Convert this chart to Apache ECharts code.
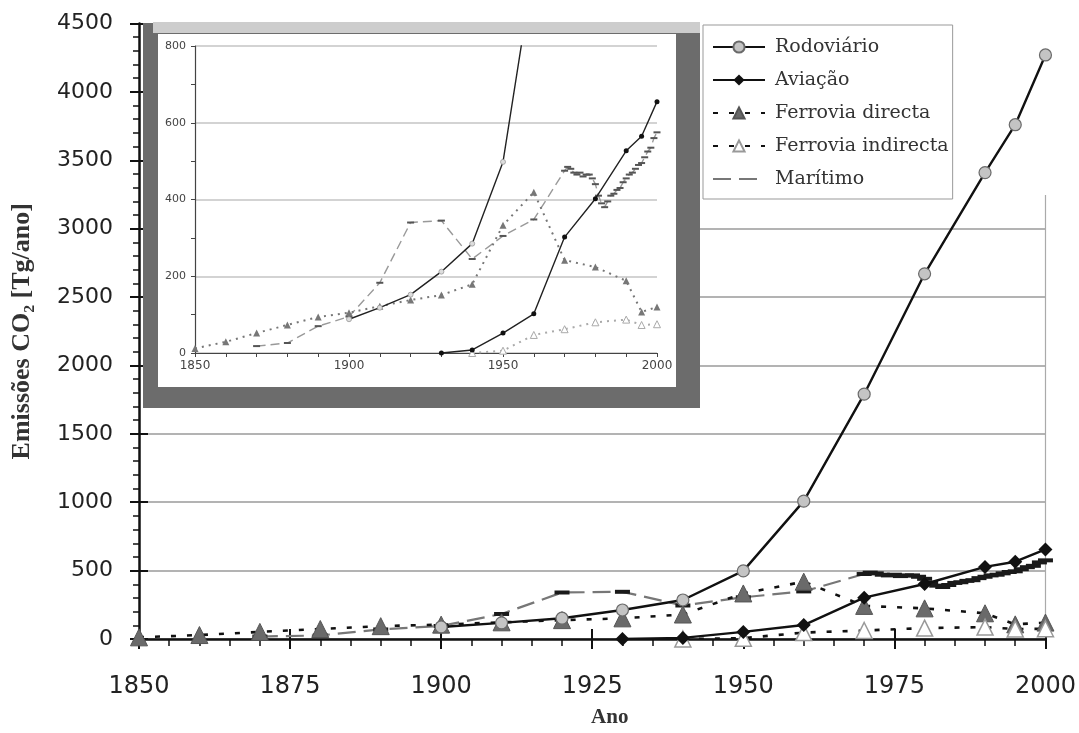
<!DOCTYPE html>
<html>
<head>
<meta charset="utf-8">
<script src="https://cdn.jsdelivr.net/npm/echarts@6/dist/echarts.min.js"></script>
<style>
html,body{margin:0;padding:0;background:#fff;}
#chart{width:1079px;height:733px;}
</style>
</head>
<body>
<div id="chart"></div>
<script>
// ---- Data (Tg CO2 / ano) ----
const seriesNames = ['Rodoviário', 'Aviação', 'Ferrovia directa', 'Ferrovia indirecta', 'Marítimo'];

const rodoviarioYears  = [1900, 1910, 1920, 1930, 1940, 1950, 1960, 1970, 1980, 1990, 1995, 2000];
const rodoviarioValues = [88, 118, 152, 212, 285, 498, 1008, 1790, 2670, 3410, 3760, 4270];

const aviacaoYears  = [1930, 1940, 1950, 1960, 1970, 1980, 1990, 1995, 2000];
const aviacaoValues = [0, 8, 52, 102, 302, 402, 527, 565, 655];

const ferroviaDirectaYears  = [1850, 1860, 1870, 1880, 1890, 1900, 1910, 1920, 1930, 1940, 1950, 1960, 1970, 1980, 1990, 1995, 2000];
const ferroviaDirectaValues = [12, 29, 52, 73, 94, 105, 122, 138, 151, 179, 333, 419, 242, 224, 188, 107, 120];

const ferroviaIndirectaYears  = [1940, 1950, 1960, 1970, 1980, 1990, 1995, 2000];
const ferroviaIndirectaValues = [0, 6, 47, 62, 80, 87, 73, 75];

const maritimoYears  = [1870, 1880, 1890, 1900, 1910, 1920, 1930, 1940, 1950, 1960,
  1970, 1971, 1972, 1973, 1974, 1975, 1976, 1977, 1978, 1979,
  1980, 1981, 1982, 1983, 1984, 1985, 1986, 1987, 1988, 1989,
  1990, 1991, 1992, 1993, 1994, 1995, 1996, 1997, 1998, 1999, 2000];
const maritimoValues = [18, 26, 70, 95, 183, 340, 345, 245, 305, 348,
  475, 485, 480, 470, 465, 470, 460, 465, 465, 455,
  440, 410, 390, 380, 395, 410, 415, 425, 430, 445,
  455, 465, 470, 480, 490, 495, 510, 525, 535, 560, 575];

// axis ranges / tick steps
const mainX = {min: 1850, max: 2000, step: 25};
const mainY = {min: 0, max: 4500, step: 500};
const insetX = {min: 1850, max: 2000, step: 50};
const insetY = {min: 0, max: 800, step: 200};

function pairs(xs, ys) { return xs.map((x, i) => [x, ys[i]]); }
const fmt = v => String(v);

const chart = echarts.init(document.getElementById('chart'), null, {renderer: 'canvas'});

const mainSeries = [
  {
    name: seriesNames[0], type: 'line', xAxisIndex: 0, yAxisIndex: 0,
    data: pairs(rodoviarioYears, rodoviarioValues),
    lineStyle: {color: '#111', width: 2.4},
    symbol: 'circle', symbolSize: 12,
    itemStyle: {color: '#c4c4c4', borderColor: '#6a6a6a', borderWidth: 1.2},
    z: 5
  },
  {
    name: seriesNames[1], type: 'line', xAxisIndex: 0, yAxisIndex: 0,
    data: pairs(aviacaoYears, aviacaoValues),
    lineStyle: {color: '#111', width: 2.4},
    symbol: 'diamond', symbolSize: 14,
    itemStyle: {color: '#111'},
    z: 6
  },
  {
    name: seriesNames[2], type: 'line', xAxisIndex: 0, yAxisIndex: 0,
    data: pairs(ferroviaDirectaYears, ferroviaDirectaValues),
    lineStyle: {color: '#111', width: 2.6, type: [5, 11]},
    symbol: 'triangle', symbolSize: 17,
    itemStyle: {color: '#6a6a6a', borderColor: '#555', borderWidth: 1},
    z: 4
  },
  {
    name: seriesNames[3], type: 'line', xAxisIndex: 0, yAxisIndex: 0,
    data: pairs(ferroviaIndirectaYears, ferroviaIndirectaValues),
    lineStyle: {color: '#111', width: 2.6, type: [5, 11]},
    symbol: 'triangle', symbolSize: 16,
    itemStyle: {color: '#fff', borderColor: '#999', borderWidth: 1.5},
    z: 4
  },
  {
    name: seriesNames[4], type: 'line', xAxisIndex: 0, yAxisIndex: 0,
    data: pairs(maritimoYears, maritimoValues),
    lineStyle: {color: '#777', width: 2.2, type: [18, 8]},
    symbol: 'rect', symbolSize: [15, 4],
    itemStyle: {color: '#1a1a1a'},
    z: 3
  }
];

const insetSeries = [
  {
    name: seriesNames[0], type: 'line', xAxisIndex: 1, yAxisIndex: 2,
    data: pairs(rodoviarioYears, rodoviarioValues),
    lineStyle: {color: '#222', width: 1.4},
    symbol: 'circle', symbolSize: 5,
    itemStyle: {color: '#ddd', borderColor: '#999', borderWidth: 0.8},
    z: 14, clip: true
  },
  {
    name: seriesNames[1], type: 'line', xAxisIndex: 1, yAxisIndex: 2,
    data: pairs(aviacaoYears, aviacaoValues),
    lineStyle: {color: '#222', width: 1.4},
    symbol: 'circle', symbolSize: 5,
    itemStyle: {color: '#111'},
    z: 14, clip: true
  },
  {
    name: seriesNames[2], type: 'line', xAxisIndex: 1, yAxisIndex: 2,
    data: pairs(ferroviaDirectaYears, ferroviaDirectaValues),
    lineStyle: {color: '#777', width: 2, type: [2, 5]},
    symbol: 'triangle', symbolSize: 7,
    itemStyle: {color: '#777'},
    z: 13, clip: true
  },
  {
    name: seriesNames[3], type: 'line', xAxisIndex: 1, yAxisIndex: 2,
    data: pairs(ferroviaIndirectaYears, ferroviaIndirectaValues),
    lineStyle: {color: '#aaa', width: 2, type: [2, 5]},
    symbol: 'triangle', symbolSize: 7,
    itemStyle: {color: '#fff', borderColor: '#aaa', borderWidth: 1},
    z: 13, clip: true
  },
  {
    name: seriesNames[4], type: 'line', xAxisIndex: 1, yAxisIndex: 2,
    data: pairs(maritimoYears, maritimoValues),
    lineStyle: {color: '#999', width: 1.4, type: [9, 5]},
    symbol: 'rect', symbolSize: [7, 2],
    itemStyle: {color: '#555'},
    z: 12, clip: true
  }
];

const option = {
  animation: false,
  backgroundColor: '#fff',
  grid: [
    {left: 139, right: 33, top: 23.5, bottom: 93},
    {left: 195, right: 422, top: 46, bottom: 380}
  ],
  legend: {
    data: [
      seriesNames[0], seriesNames[1], seriesNames[2], seriesNames[3],
      {name: seriesNames[4], itemStyle: {opacity: 0}}
    ],
    orient: 'vertical',
    left: 703, top: 25,
    padding: [12, 4, 10, 9],
    itemWidth: 52, itemHeight: 14, itemGap: 13,
    backgroundColor: '#fff',
    borderColor: '#999', borderWidth: 1,
    textStyle: {fontFamily: 'DejaVu Serif', fontSize: 19, color: '#333', lineHeight: 20, padding: [0, 0, 0, 5]},
    z: 20
  },
  graphic: [
    // blank area behind the legend (top-right of main plot)
    {type: 'rect', shape: {x: 700, y: 10, width: 352, height: 185}, style: {fill: '#fff'}, z: 1},
    // inset frame
    {type: 'rect', shape: {x: 143, y: 23, width: 557, height: 385}, style: {fill: '#6c6c6c'}, z: 1},
    {type: 'rect', shape: {x: 153, y: 22, width: 547, height: 11}, style: {fill: '#cdcdcd'}, z: 1},
    {type: 'rect', shape: {x: 158, y: 34, width: 518, height: 353}, style: {fill: '#fff'}, z: 1}
  ],
  xAxis: [
    {
      type: 'value', gridIndex: 0, min: mainX.min, max: mainX.max, interval: mainX.step,
      axisLine: {lineStyle: {color: '#111', width: 2.5}},
      axisTick: {show: true, length: 10, lineStyle: {color: '#111', width: 2}},
      minorTick: {show: true, splitNumber: 5, length: 7, lineStyle: {color: '#111', width: 1.5}},
      splitLine: {show: false},
      axisLabel: {formatter: fmt, fontFamily: 'DejaVu Sans', fontSize: 24, color: '#222', margin: 36},
      name: 'Ano', nameLocation: 'middle', nameGap: 68,
      nameTextStyle: {fontFamily: 'Liberation Serif', fontWeight: 'bold', fontSize: 21, color: '#333', padding: [0, 0, 0, 35]}
    },
    {
      type: 'value', gridIndex: 1, min: insetX.min, max: insetX.max, interval: insetX.step, z: 10,
      axisLine: {lineStyle: {color: '#444', width: 1.2}},
      axisTick: {show: true, length: 4, lineStyle: {color: '#444'}},
      minorTick: {show: true, splitNumber: 5, length: 4, lineStyle: {color: '#444'}},
      splitLine: {show: false},
      axisLabel: {formatter: fmt, fontFamily: 'DejaVu Sans', fontSize: 12, color: '#444', margin: 7}
    },
    {
      // inner half of the main x major ticks (ticks cross the axis)
      type: 'value', gridIndex: 0, min: mainX.min, max: mainX.max, interval: mainX.step, position: 'bottom',
      axisLine: {show: false},
      axisTick: {show: true, inside: true, length: 10, lineStyle: {color: '#111', width: 2}},
      axisLabel: {show: false}, splitLine: {show: false}
    }
  ],
  yAxis: [
    {
      type: 'value', gridIndex: 0, min: mainY.min, max: mainY.max, interval: mainY.step,
      axisLine: {show: true, lineStyle: {color: '#111', width: 2.5}},
      axisTick: {show: true, length: 9, lineStyle: {color: '#111', width: 2}},
      minorTick: {show: true, splitNumber: 5, length: 6, lineStyle: {color: '#111', width: 1.5}},
      splitLine: {show: true, lineStyle: {color: '#9a9a9a', width: 1.5}},
      axisLabel: {formatter: fmt, fontFamily: 'DejaVu Sans', fontSize: 22, color: '#222', margin: 26},
      name: 'Emissões CO₂ [Tg/ano]', nameLocation: 'middle', nameGap: 104, nameRotate: 90,
      nameTextStyle: {fontFamily: 'Liberation Serif', fontWeight: 'bold', fontSize: 26, color: '#333'}
    },
    {
      // right border of the main plot area
      type: 'value', gridIndex: 0, min: mainY.min, max: mainY.max, position: 'right',
      axisLine: {show: true, lineStyle: {color: '#aaa', width: 1.2}},
      axisTick: {show: false}, axisLabel: {show: false}, splitLine: {show: false}
    },
    {
      type: 'value', gridIndex: 1, min: insetY.min, max: insetY.max, interval: insetY.step, z: 10,
      axisLine: {show: true, lineStyle: {color: '#444', width: 1.2}},
      axisTick: {show: true, length: 4, lineStyle: {color: '#444'}},
      minorTick: {show: true, splitNumber: 2, length: 4, lineStyle: {color: '#444'}},
      splitLine: {show: true, lineStyle: {color: '#c4c4c4', width: 1.5}},
      axisLabel: {formatter: fmt, fontFamily: 'DejaVu Sans', fontSize: 11, color: '#444', margin: 9}
    },
    {
      // inner half of the main y major ticks
      type: 'value', gridIndex: 0, min: mainY.min, max: mainY.max, interval: mainY.step, position: 'left',
      axisLine: {show: false},
      axisTick: {show: true, inside: true, length: 9, lineStyle: {color: '#111', width: 2}},
      axisLabel: {show: false}, splitLine: {show: false}
    }
  ],
  series: mainSeries.concat(insetSeries)
};

chart.setOption(option);
</script>
</body>
</html>
